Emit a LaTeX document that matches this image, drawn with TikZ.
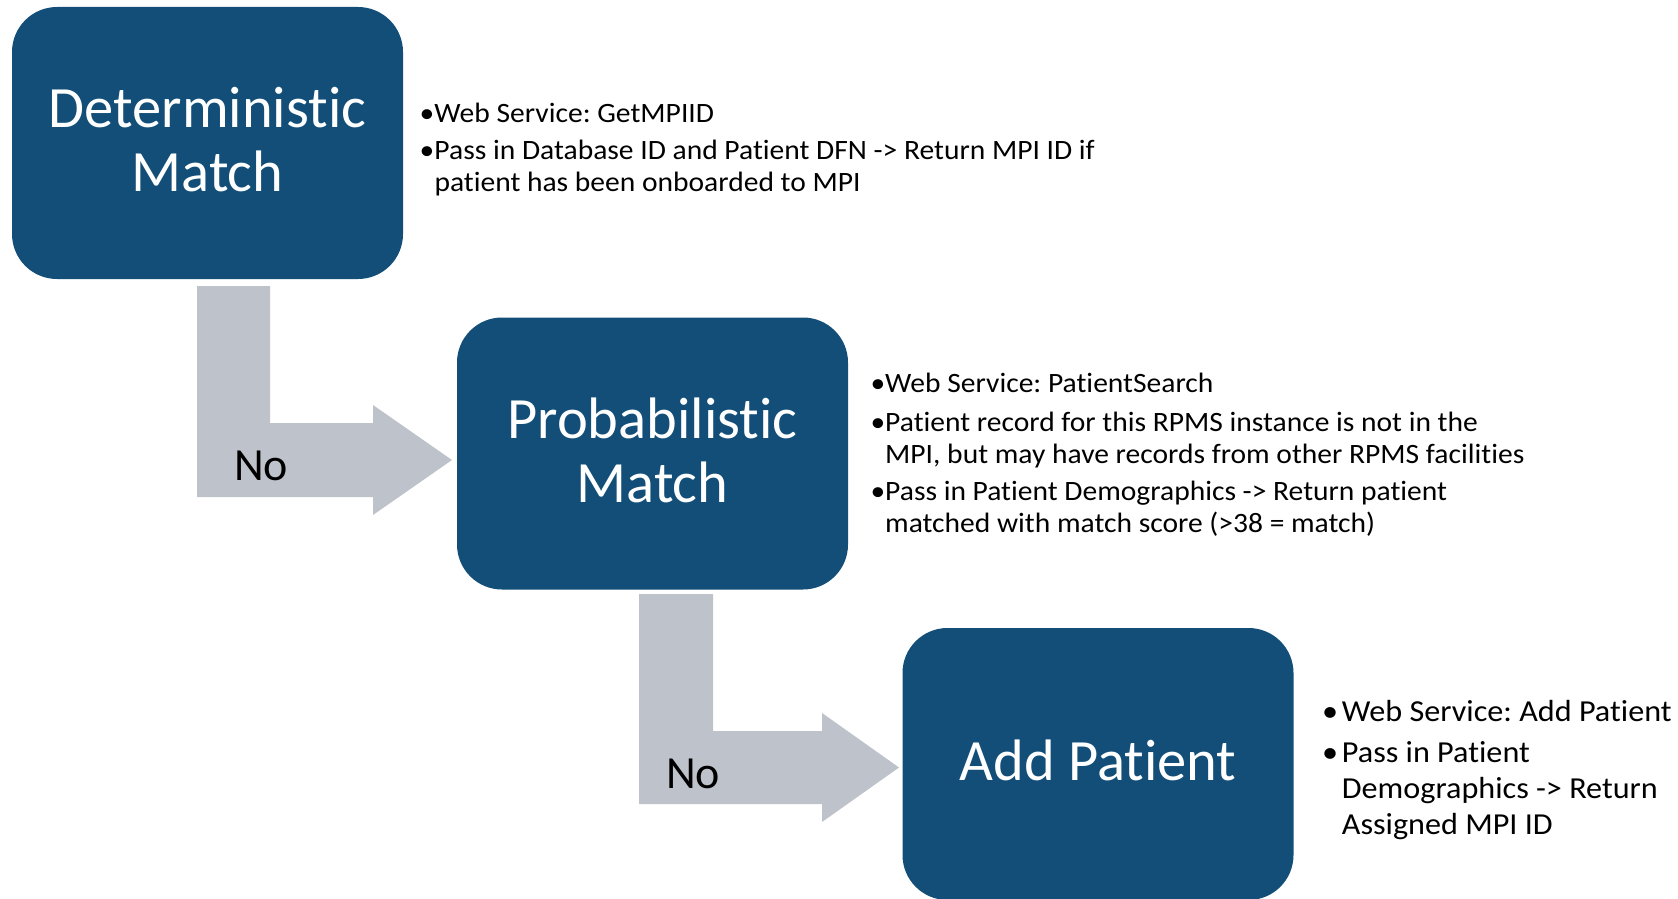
\documentclass[tikz,border=0pt]{standalone}
\usepackage{fontspec}
\setmainfont{Carlito}[Ligatures=NoCommon]
\newfontfamily\notefont{Carlito}[Ligatures=NoCommon, FakeStretch=1.055]
\frenchspacing
\definecolor{boxblue}{HTML}{124E77}
\definecolor{flowgray}{HTML}{BEC2CA}

\begin{document}
\begin{tikzpicture}[x=1pt,y=-1pt,
  stage/.style={fill=boxblue, rounded corners=45pt, minimum width=391pt,
    minimum height=272pt, text=white, align=center, inner sep=0pt,
    text depth=7pt, font=\fontsize{58.5}{64}\selectfont},
  note/.style={anchor=base west, inner sep=0pt, font=\notefont\fontsize{28}{32}\selectfont},
  bignote/.style={note, font=\notefont\fontsize{30.5}{36}\selectfont},
  nolabel/.style={anchor=base west, inner sep=0pt, font=\fontsize{46}{50}\selectfont},
  flow/.style={fill=flowgray, draw=none}
]
\useasboundingbox (0,0) rectangle (1678,899);

% stages
\node[stage] (det) at (207.5,143) {Deterministic\\Match};
\node[stage] (prob) at (652.5,453.5) {Probabilistic\\Match};
\node[stage] (add) at (1098,764) {Add Patient};

% "No" flow arrows
\fill[flow] (197,286) -- (270,286) -- (270,423) -- (373,423) -- (373,405)
  -- (452,460) -- (373,515) -- (373,497) -- (197,497) -- cycle;
\fill[flow] (639,594) -- (713,594) -- (713,731) -- (822,731) -- (822,713)
  -- (899,767.5) -- (822,822) -- (822,804) -- (639,804) -- cycle;
\node[nolabel] (no1) at (234,480) {No};
\node[nolabel] (no2) at (666,788) {No};

% notes for the deterministic match
\node[note] (d1) at (419.5,122) {\makebox[14.8pt][l]{•}Web Service: GetMPIID};
\node[note] (d2) at (419.5,159.5) {\makebox[14.8pt][l]{•}Pass in Database ID and Patient DFN -> Return MPI ID if};
\node[note] (d3) at (434.3,191.6) {patient has been onboarded to MPI};

% notes for the probabilistic match
\node[note] (p1) at (870.5,392.7) {\makebox[14.5pt][l]{•}Web Service: PatientSearch};
\node[note] (p2) at (870.5,431.2) {\makebox[14.5pt][l]{•}Patient record for this RPMS instance is not in the};
\node[note] (p3) at (885,463.3) {MPI, but may have records from other RPMS facilities};
\node[note] (p4) at (870.5,500.8) {\makebox[14.5pt][l]{•}Pass in Patient Demographics -> Return patient};
\node[note] (p5) at (885,532.9) {matched with match score (>38 = match)};

% notes for adding a patient
\node[bignote] (a1) at (1322,721.7) {\makebox[19.7pt][l]{•}Web Service: Add Patient};
\node[bignote] (a2) at (1322,762.4) {\makebox[19.7pt][l]{•}Pass in Patient};
\node[bignote] (a3) at (1341.7,798.8) {Demographics -> Return};
\node[bignote] (a4) at (1341.7,834.1) {Assigned MPI ID};
\end{tikzpicture}
\end{document}
